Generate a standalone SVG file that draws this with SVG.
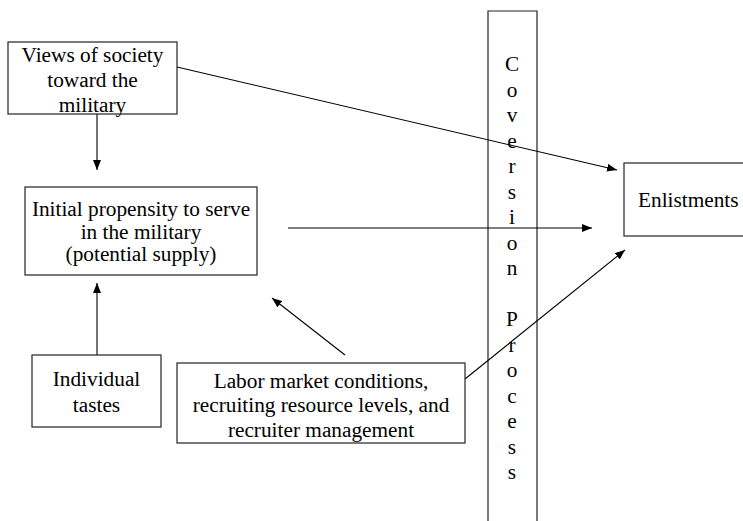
<svg xmlns="http://www.w3.org/2000/svg" width="743" height="521" viewBox="0 0 743 521">
<defs>
<marker id="ah" viewBox="0 0 10 8" refX="10" refY="4" markerWidth="10" markerHeight="8" markerUnits="userSpaceOnUse" orient="auto">
<path d="M0,0 L10,4 L0,8 Z" fill="#000"/>
</marker>
</defs>
<style>
.box{fill:#fff;stroke:#222;stroke-width:1.2}
.t{font-family:"Liberation Serif","Times New Roman",serif;font-size:21.3px;fill:#000;text-anchor:middle}
.c{fill:none;stroke:#000;stroke-width:1.1;marker-end:url(#ah)}
.bar{fill:none;stroke:#222;stroke-width:1.2}
</style>
<rect width="743" height="521" fill="#fff"/>
<g id="conversion">
<path class="bar" d="M488,521 V11 H537 V521"/>
<text class="t" x="512" y="71">C</text>
<text class="t" x="512" y="96.5">o</text>
<text class="t" x="512" y="122">v</text>
<text class="t" x="512" y="147.5">e</text>
<text class="t" x="512" y="173">r</text>
<text class="t" x="512" y="198.5">s</text>
<text class="t" x="512" y="224">i</text>
<text class="t" x="512" y="249.5">o</text>
<text class="t" x="512" y="275">n</text>
<text class="t" x="512" y="326">P</text>
<text class="t" x="512" y="351.5">r</text>
<text class="t" x="512" y="377">o</text>
<text class="t" x="512" y="402.5">c</text>
<text class="t" x="512" y="428">e</text>
<text class="t" x="512" y="453.5">s</text>
<text class="t" x="512" y="479">s</text>
</g>
<g id="connectors">
<line class="c" x1="97" y1="114" x2="97" y2="170"/>
<line class="c" x1="177" y1="67" x2="617" y2="170"/>
<line class="c" x1="288" y1="228" x2="592" y2="228"/>
<line class="c" x1="97" y1="355" x2="97" y2="283"/>
<line class="c" x1="345" y1="355" x2="272" y2="298"/>
<line class="c" x1="465" y1="379" x2="625" y2="250"/>
</g>
<g id="views">
<rect class="box" x="8" y="42" width="169" height="72" fill-opacity="0"/>
<text class="t" x="92.5" y="62">Views of society</text>
<text class="t" x="92.5" y="87">toward the</text>
<text class="t" x="92.5" y="112">military</text>
</g>
<g id="initial">
<rect class="box" x="25" y="187" width="232" height="88"/>
<text class="t" x="141" y="216">Initial propensity to serve</text>
<text class="t" x="141" y="238.5">in the military</text>
<text class="t" x="141" y="261">(potential supply)</text>
</g>
<g id="enlistments">
<rect class="box" x="624" y="163" width="130" height="73"/>
<text class="t" x="638" y="207" style="text-anchor:start">Enlistments</text>
</g>
<g id="individual">
<rect class="box" x="32" y="355" width="129" height="72"/>
<text class="t" x="96.5" y="386">Individual</text>
<text class="t" x="96.5" y="411.5">tastes</text>
</g>
<g id="labor">
<rect class="box" x="177" y="363" width="288" height="80"/>
<text class="t" x="321" y="388">Labor market conditions,</text>
<text class="t" x="321" y="412">recruiting resource levels, and</text>
<text class="t" x="321" y="436.5">recruiter management</text>
</g>
</svg>
